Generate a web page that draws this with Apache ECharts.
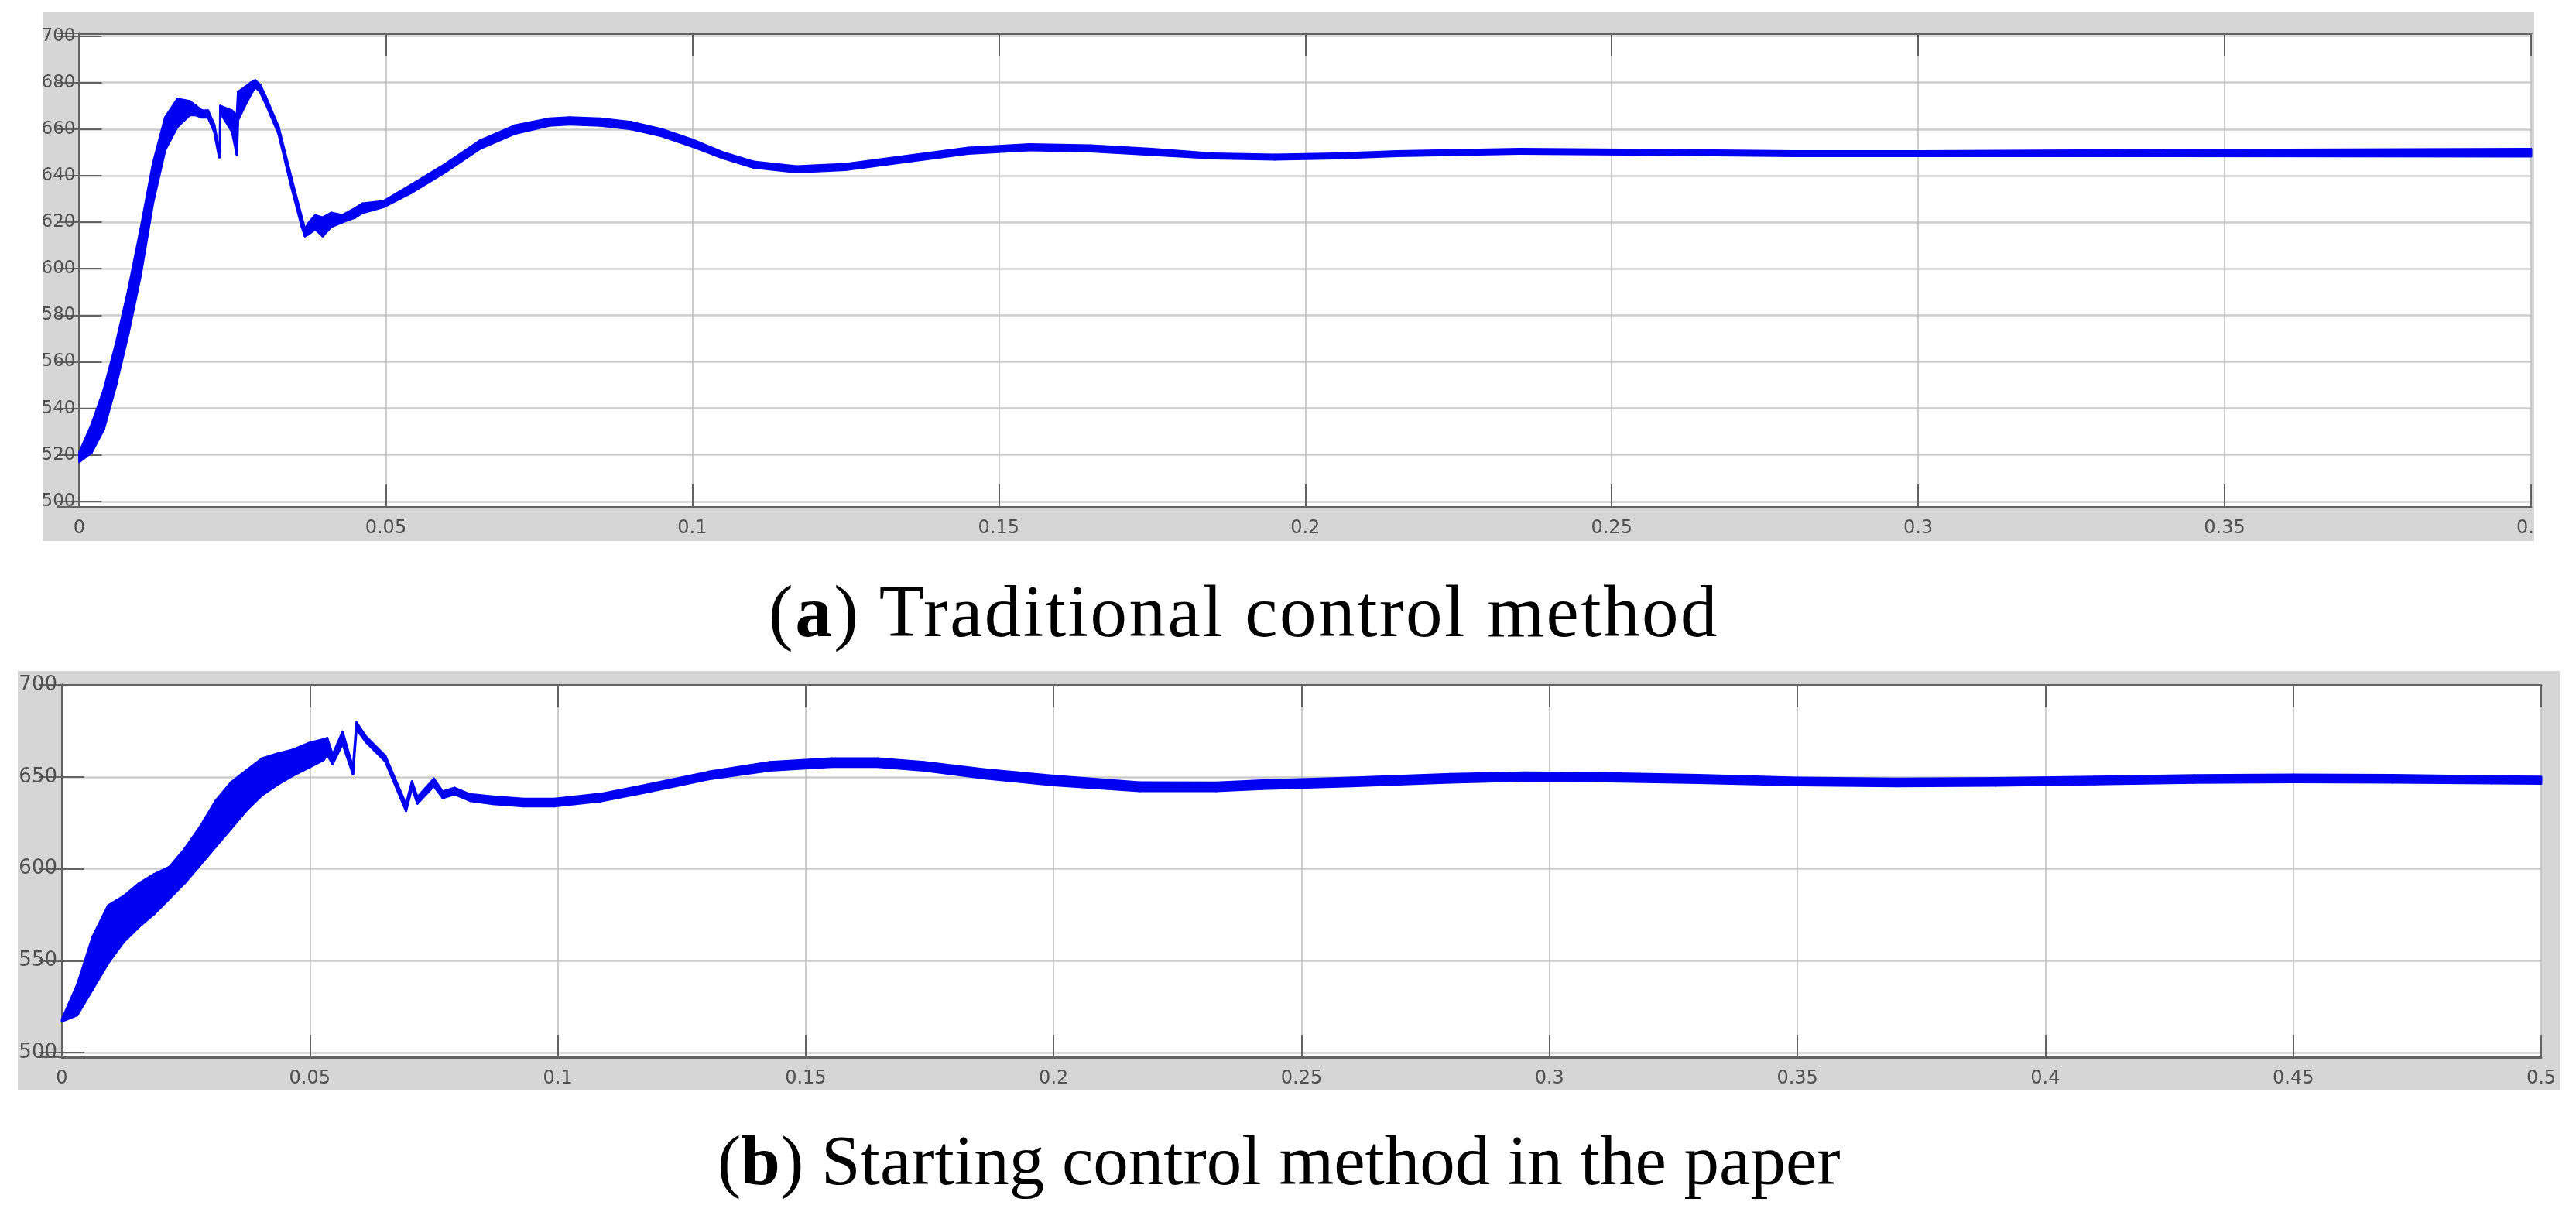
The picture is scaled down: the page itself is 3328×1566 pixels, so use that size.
<!DOCTYPE html>
<html>
<head>
<meta charset="utf-8">
<title>DC bus voltage at start-up</title>
<script src="https://cdn.jsdelivr.net/npm/echarts@6/dist/echarts.min.js"></script>
<style>
    html, body { margin: 0; padding: 0; background: #fff; }
    body { width: 3328px; height: 1566px; position: relative; overflow: hidden; }
    .frame { position: absolute; background: #d6d6d6; }
    #chartA { left: 55px; top: 16px; width: 3219px; height: 683px; }
    #chartB { left: 23px; top: 867px; width: 3284px; height: 541px; }
    .caption {
        position: absolute; white-space: nowrap; color: #000;
        font-family: "Liberation Serif", serif;
    }
    #capA { left: 993px; top: 743px; font-size: 95px; line-height: 95px; letter-spacing: 2.5px; }
    #capB { left: 927px; top: 1454px; font-size: 91px; line-height: 91px; }
</style>
</head>
<body>
<div id="chartA" class="frame"></div>
<div id="capA" class="caption">(<b>a</b>) Traditional control method</div>
<div id="chartB" class="frame"></div>
<div id="capB" class="caption">(<b>b</b>) Starting control method in the paper</div>

<script>
// (a) traditional control: time (s), upper / lower envelope of the ripple band (V)
var tA = [0, 0.002, 0.004, 0.006, 0.008, 0.010, 0.012, 0.014, 0.016, 0.018,
    0.019, 0.020, 0.021, 0.022, 0.0228, 0.0229, 0.0230, 0.0249, 0.0257, 0.0259,
    0.0270, 0.0280, 0.0287, 0.0295, 0.0304, 0.0325, 0.0346, 0.0363, 0.0368, 0.0375,
    0.0385, 0.0397, 0.0411, 0.0429, 0.045, 0.0462, 0.0496, 0.0541, 0.0597, 0.0653,
    0.071, 0.0767, 0.080, 0.085, 0.090, 0.095, 0.100, 0.105, 0.110, 0.117,
    0.125, 0.135, 0.145, 0.155, 0.165, 0.175, 0.185, 0.195, 0.205, 0.215,
    0.235, 0.26, 0.28, 0.30, 0.34, 0.40];
var hiA = [521, 533, 548, 568, 591, 617, 645, 665, 673, 672,
    670, 668, 668, 662, 651, 651, 670, 668, 666, 676,
    678, 680, 681, 679, 674, 661, 639, 622, 617, 620,
    623, 622, 624, 623, 626, 628, 629, 636, 645, 655,
    661.5, 664.5, 665, 664.5, 663, 660, 655.5, 650, 646, 644,
    645, 648.5, 652, 653.5, 653, 651.5, 649.5, 649, 649.5, 650.5,
    651.5, 651, 650.5, 650.5, 651, 651.5];
var loA = [517, 521, 531, 550, 572, 597, 628, 651, 661, 666,
    666, 665, 665, 659, 648, 648, 667, 659, 649, 664,
    670, 675, 678, 676, 671, 658, 635, 618, 614, 615,
    617, 614, 618, 620, 622, 624, 626.5, 632.5, 641.5, 651.5,
    658, 661.5, 662, 661.5, 660, 657, 652.5, 647.5, 643.5, 641.5,
    642.5, 646, 649.5, 651, 650.5, 649, 647.5, 647, 647.5, 648.5,
    649.5, 649, 648.5, 648.5, 648.5, 648.3];

// (b) starting control method in the paper
var tB = [0, 0.0031, 0.0062, 0.0093, 0.0124, 0.0155, 0.0186, 0.0217, 0.0248, 0.0279,
    0.031, 0.0341, 0.0372, 0.0404, 0.0435, 0.0466, 0.0497, 0.0528, 0.0535, 0.0546,
    0.0566, 0.0587, 0.0594, 0.0613, 0.0652, 0.0683, 0.0694, 0.0706, 0.0717, 0.075,
    0.0768, 0.0792, 0.0823, 0.0869, 0.0931, 0.0993, 0.1086, 0.118, 0.1304, 0.1428,
    0.1552, 0.1645, 0.1738, 0.1862, 0.200, 0.2173, 0.2328, 0.2421, 0.26, 0.28,
    0.295, 0.31, 0.33, 0.35, 0.37, 0.39, 0.41, 0.43, 0.45, 0.47,
    0.49, 0.50];
var hiB = [518, 537, 563, 580, 585, 592, 597, 601, 611, 623,
    637, 647, 653.5, 660, 662.7, 664.8, 668.3, 670.4, 671.1, 662,
    674.6, 655, 679.6, 672, 661.5, 642, 635, 647.5, 639, 649,
    642, 644, 640.5, 639.3, 638, 638, 640.7, 645.7, 652.7, 658,
    660, 660, 658, 654, 650.5, 647, 646.8, 648, 649.5, 651.5,
    652.3, 652, 651, 649.5, 649, 649.3, 650, 650.8, 651.2, 651,
    650.2, 650];
var loB = [517, 520.4, 534.5, 548.6, 560, 568.3, 575.4, 583.8, 592.3, 602.1,
    612, 621.8, 631.7, 640.1, 645.8, 650.7, 654.9, 659.2, 662, 657,
    668, 651.4, 676, 669, 658.5, 638.5, 631.5, 644, 635.5, 645,
    638.5, 640.5, 637, 635.3, 634, 634, 636.7, 641.7, 648.7, 653.5,
    655.5, 655.5, 653.5, 649.2, 645.5, 642.3, 642.3, 643.5, 645, 647,
    648, 647.7, 646.7, 645.5, 645, 645.3, 646, 646.8, 647.2, 647,
    646.5, 646.3];

// axis ranges
var rangeA = { xMax: 0.4, yMin: 497.6, yMax: 701.2, ySplit: 10, showMax: false };
var rangeB = { xMax: 0.5, yMin: 497.5, yMax: 700, ySplit: 4, showMax: true };

var BLUE = '#0000f2';
var AXIS = '#626262';
var LABEL = '#505050';

// 纹波带: 相邻两点的上下包络围成一个四边形
function bandSeries(t, hi, lo) {
    var data = [];
    for (var i = 0; i < t.length; i++) {
        data.push([t[i], hi[i], lo[i]]);
    }
    return {
        type: 'custom',
        data: data,
        silent: true,
        encode: { x: 0, y: [1, 2] },
        renderItem: function(params, api) {
            var i = params.dataIndexInside;
            if (i >= params.dataInsideLength - 1) return;
            var p1 = api.coord([api.value(0, i), api.value(1, i)]);
            var p2 = api.coord([api.value(0, i + 1), api.value(1, i + 1)]);
            var p3 = api.coord([api.value(0, i + 1), api.value(2, i + 1)]);
            var p4 = api.coord([api.value(0, i), api.value(2, i)]);
            return {
                type: 'polygon',
                shape: { points: [p1, p2, p3, p4] },
                style: { fill: BLUE, stroke: BLUE, lineWidth: 3, lineJoin: 'round' }
            };
        }
    };
}

function buildOption(range, grid, fonts, t, hi, lo) {
    var tick = { show: true, inside: true, length: 29, lineStyle: { color: AXIS, width: 2 } };
    var border = { show: true, lineStyle: { color: AXIS, width: 3 } };
    return {
        animation: false,
        grid: {
            left: grid[0], top: grid[1], right: grid[2], bottom: grid[3],
            show: true, backgroundColor: '#fff', borderWidth: 0,
            containLabel: false, outerBoundsMode: 'none'
        },
        xAxis: [{
            type: 'value', min: 0, max: range.xMax, interval: 0.05, position: 'bottom',
            axisLine: border, axisTick: tick,
            axisLabel: { color: LABEL, fontSize: fonts.x, fontFamily: 'DejaVu Sans', margin: 16,
                hideOverlap: false },
            splitLine: { show: true, lineStyle: { color: '#bcbcbc', width: 1.5 } }
        }, {
            type: 'value', min: 0, max: range.xMax, interval: 0.05, position: 'top',
            axisLine: border, axisTick: tick, axisLabel: { show: false }, splitLine: { show: false }
        }],
        yAxis: [{
            type: 'value', min: range.yMin, max: range.yMax, splitNumber: range.ySplit, position: 'left',
            axisLine: border, axisTick: tick,
            axisLabel: {
                color: LABEL, fontSize: fonts.y, fontFamily: 'DejaVu Sans', margin: fonts.ym,
                showMinLabel: false, showMaxLabel: range.showMax
            },
            splitLine: { show: true, lineStyle: { color: '#cdcdcd', width: 2.5 } }
        }, {
            type: 'value', min: range.yMin, max: range.yMax, splitNumber: range.ySplit, position: 'right',
            axisLine: border, axisTick: tick, axisLabel: { show: false }, splitLine: { show: false }
        }],
        series: [bandSeries(t, hi, lo)]
    };
}

var chartA = echarts.init(document.getElementById('chartA'));
var chartB = echarts.init(document.getElementById('chartB'));

chartA.setOption(buildOption(rangeA, [47.5, 27, 4, 44], { x: 24, y: 23, ym: 5 }, tA, hiA, loA));
chartB.setOption(buildOption(rangeB, [57, 18, 24, 42], { x: 24, y: 26, ym: 6 }, tB, hiB, loB));
</script>
</body>
</html>
